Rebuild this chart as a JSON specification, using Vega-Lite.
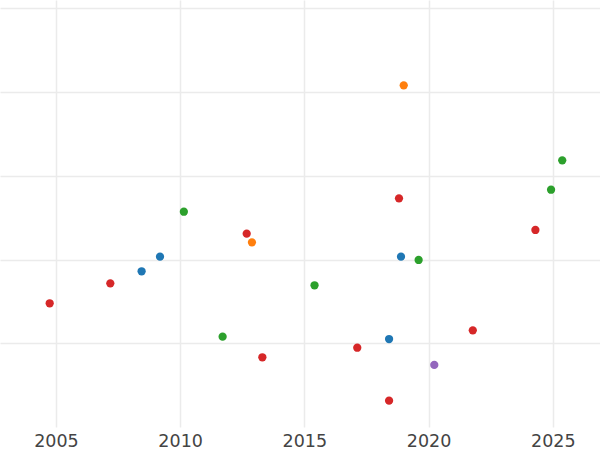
{
  "$schema": "https://vega.github.io/schema/vega-lite/v6.json",
  "width": 600,
  "height": 427,
  "autosize": {"type": "none"},
  "padding": {"left": 0, "top": 0, "right": 0, "bottom": 23},
  "background": "white",
  "config": {
    "view": {"stroke": null},
    "font": "DejaVu Sans"
  },
  "data": {
    "values": [
      {"year": 2004.75, "value": 1.478, "group": "D"},
      {"year": 2007.19, "value": 1.716, "group": "D"},
      {"year": 2008.45, "value": 1.860, "group": "A"},
      {"year": 2009.19, "value": 2.034, "group": "A"},
      {"year": 2010.15, "value": 2.571, "group": "C"},
      {"year": 2012.68, "value": 2.309, "group": "D"},
      {"year": 2012.89, "value": 2.206, "group": "B"},
      {"year": 2015.41, "value": 1.693, "group": "C"},
      {"year": 2011.71, "value": 1.079, "group": "C"},
      {"year": 2013.31, "value": 0.833, "group": "D"},
      {"year": 2019.00, "value": 4.081, "group": "B"},
      {"year": 2018.81, "value": 2.731, "group": "D"},
      {"year": 2017.13, "value": 0.947, "group": "D"},
      {"year": 2018.41, "value": 1.051, "group": "A"},
      {"year": 2021.78, "value": 1.155, "group": "D"},
      {"year": 2020.23, "value": 0.741, "group": "E"},
      {"year": 2018.41, "value": 0.315, "group": "D"},
      {"year": 2025.38, "value": 3.185, "group": "C"},
      {"year": 2024.93, "value": 2.834, "group": "C"},
      {"year": 2024.30, "value": 2.353, "group": "D"},
      {"year": 2018.89, "value": 2.034, "group": "A"},
      {"year": 2019.60, "value": 1.995, "group": "C"}
    ]
  },
  "mark": {"type": "circle", "size": 68, "opacity": 1},
  "encoding": {
    "x": {
      "field": "year",
      "type": "quantitative",
      "scale": {"domain": [2002.75, 2026.9], "nice": false, "zero": false},
      "axis": {
        "title": null,
        "values": [2005, 2010, 2015, 2020, 2025],
        "format": "d",
        "domain": false,
        "ticks": false,
        "labelPadding": 5,
        "labelFont": "DejaVu Sans",
        "labelFontSize": 17.5,
        "labelColor": "#444444",
        "grid": true,
        "gridColor": "#ebebeb",
        "gridWidth": 1.5
      }
    },
    "y": {
      "field": "value",
      "type": "quantitative",
      "scale": {"domain": [0, 5.1], "nice": false, "zero": false},
      "axis": {
        "title": null,
        "values": [1, 2, 3, 4, 5],
        "labels": false,
        "domain": false,
        "ticks": false,
        "grid": true,
        "gridColor": "#ebebeb",
        "gridWidth": 1.5
      }
    },
    "color": {
      "field": "group",
      "type": "nominal",
      "scale": {
        "domain": ["A", "B", "C", "D", "E"],
        "range": ["#1f77b4", "#ff7f0e", "#2ca02c", "#d62728", "#9467bd"]
      },
      "legend": null
    }
  }
}
